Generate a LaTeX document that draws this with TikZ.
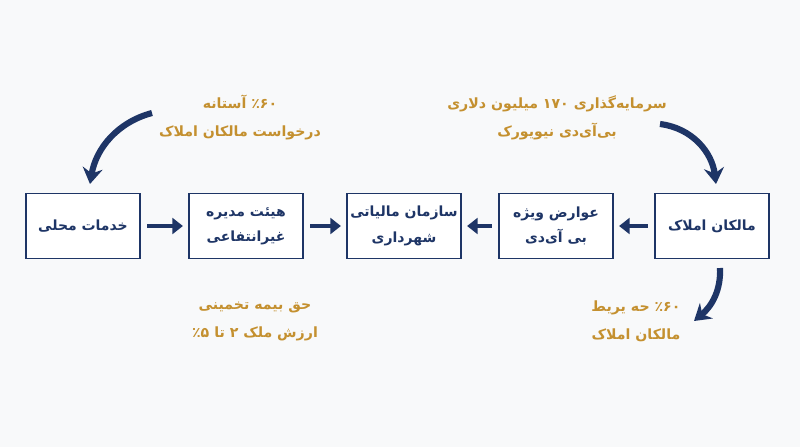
\documentclass[tikz,border=0pt]{standalone}
\usepackage{fontspec}
\TeXXeTstate=1
\newfontfamily\farsi[Script=Arabic]{DejaVu Sans}
\usetikzlibrary{arrows.meta}
\definecolor{navy}{HTML}{1E3566}
\definecolor{gold}{HTML}{C4902F}
\definecolor{bgc}{HTML}{F8F9FA}
\newcommand{\rl}[1]{\beginR #1\endR}
\newcommand{\pc}[1]{\mbox{#1}\mbox{٪}}
\begin{document}
\begin{tikzpicture}[x=0.75pt,y=-0.75pt,
 box/.style={draw=navy, line width=1.1pt, fill=white, minimum width=85.5pt, minimum height=48.75pt, align=center, text=navy, font=\farsi\bfseries\fontsize{10.5}{19}\selectfont, inner sep=0pt},
 note/.style={align=center, text=gold, font=\farsi\bfseries\fontsize{10.6}{21}\selectfont, inner sep=0pt},
 flow/.style={draw=navy, line width=3.7pt, -{Triangle[length=8pt,width=12pt]}, shorten <=5pt, shorten >=4pt},
 curvearrow/.style={draw=navy, line width=4.6pt, -{Stealth[length=12pt,width=15pt,inset=4pt]}}]
\useasboundingbox (0,0) rectangle (800,447);
\fill[bgc] (0,0) rectangle (800,447);
\node[box] (b1) at (83,226) {\rl{خدمات محلی}};
\node[box] (b2) at (246,226) {\rl{هیئت مدیره}\\\rl{غیرانتفاعی}};
\node[box] (b3) at (404,226) {\rl{سازمان مالیاتی}\\\rl{شهرداری}};
\node[box] (b4) at (556,226) {\rl{عوارض ویژه}\\\rl{بی آی‌دی}};
\node[box] (b5) at (712,226) {\rl{مالکان املاک}};
\draw[flow] (b1.east) -- (b2.west);
\draw[flow] (b2.east) -- (b3.west);
\draw[flow] (b4.west) -- (b3.east);
\draw[flow] (b5.west) -- (b4.east);
\node[note] (n1) at (240,117) {\rl{\pc{۶۰} آستانه}\\\rl{درخواست مالکان املاک}};
\node[note] (n2) at (557,118) {\rl{سرمایه‌گذاری ۱۷۰ میلیون دلاری}\\\rl{بی‌آی‌دی نیویورک}};
\node[note] (n3) at (255,321) {\rl{حق بیمه تخمینی}\\\rl{ارزش ملک ۲ تا \pc{۵}}};
\node[note] (n4) at (636,321) {\rl{\pc{۶۰} حه یریط}\\\rl{مالکان املاک}};
\coordinate (s1) at (152,113);
\coordinate (s2) at (660,124);
\coordinate (s3) at (720,268);
\coordinate (e1) at (90,184);
\coordinate (e2) at (716,184);
\coordinate (e3) at (694,321);
\draw[curvearrow] (s1) .. controls (118,122) and (96,148) .. (e1);
\draw[curvearrow] (s2) .. controls (692,128) and (712,152) .. (e2);
\draw[curvearrow] (s3) .. controls (721,290) and (712,306) .. (e3);
\end{tikzpicture}
\end{document}
